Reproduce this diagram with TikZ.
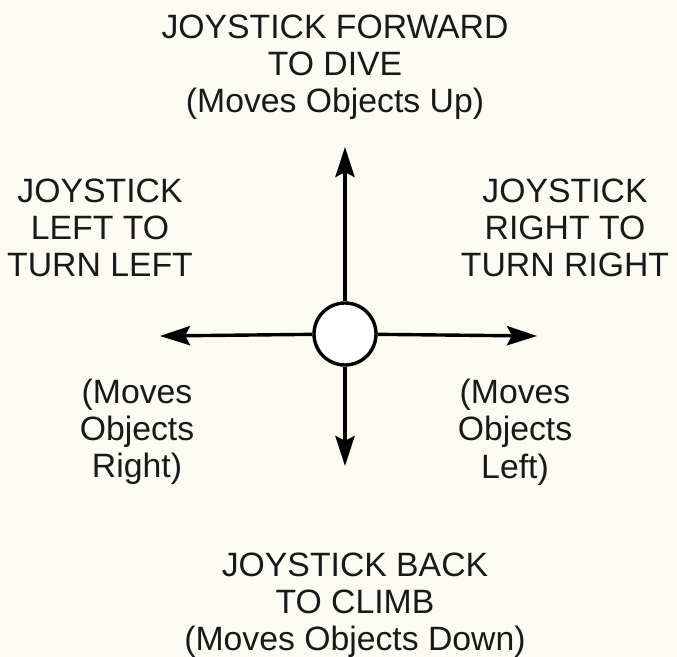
\documentclass[tikz,border=0pt]{standalone}
\usepackage{fontspec}
\setmainfont{Liberation Sans}
\usetikzlibrary{arrows.meta,positioning}
\definecolor{paper}{HTML}{FCFCF2}

\begin{document}
\begin{tikzpicture}[
  x=0.025cm, y=-0.025cm,
  txt/.style={align=center, font=\fontsize{24}{26.5}\selectfont, inner sep=0pt, text=black!90},
  arrow/.style={-{Stealth[length=0.75cm, width=0.48cm, inset=0.12cm]}, line width=0.085cm}
]
  \fill[paper] (0,0) rectangle (677,657);
  \useasboundingbox (0,0) rectangle (677,657);
  \node[draw, circle, line width=0.085cm, minimum size=1.55cm, fill=white, inner sep=0pt] (stick) at (345,334) {};
  \coordinate (up) at (345,147);
  \coordinate (down) at (345,466);
  \coordinate (left) at (160,336);
  \coordinate (right) at (537,336);

  \draw[arrow] (stick) -- (up);
  \draw[arrow] (stick) -- (down);
  \draw[arrow] (stick) -- (left);
  \draw[arrow] (stick) -- (right);

  \node[txt] (dive) at (335,67) {JOYSTICK FORWARD\\TO DIVE\\(Moves Objects Up)};
  \node[txt] (turnleft) at (100,228) {JOYSTICK\\LEFT TO\\TURN LEFT};
  \node[txt] (turnright) at (565,228) {JOYSTICK\\RIGHT TO\\TURN RIGHT};
  \node[txt] (objright) at (137,432) {(Moves\\Objects\\Right)};
  \node[txt] (objleft) at (515,432) {(Moves\\Objects\\Left)};
  \node[txt] (climb) at (355,605) {JOYSTICK BACK\\TO CLIMB\\(Moves Objects Down)};
\end{tikzpicture}
\end{document}
